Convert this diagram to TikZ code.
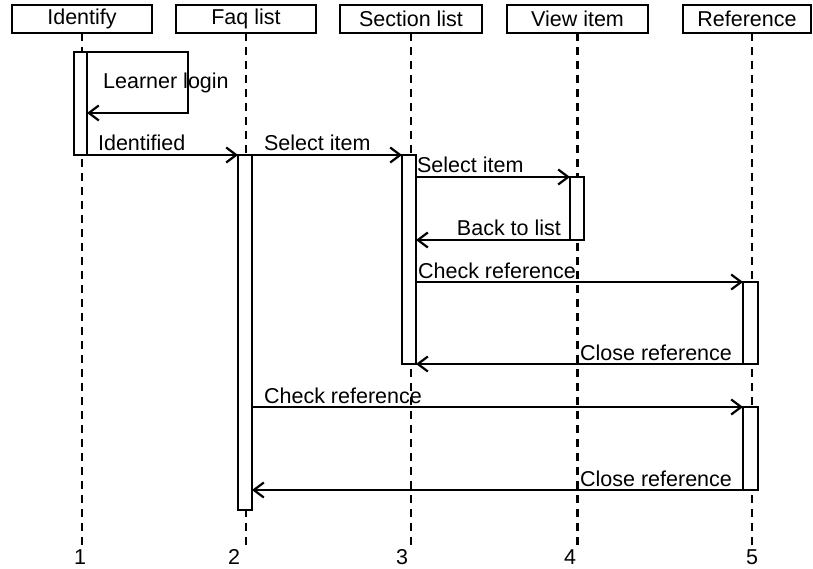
\documentclass[tikz,border=0pt]{standalone}
\usepackage{fontspec}
\setmainfont{Liberation Sans}
\usetikzlibrary{arrows.meta}

\tikzset{
  objet/.style={draw,line width=2.2pt,minimum height=28pt,inner sep=0pt,outer sep=0pt},
  vie/.style={line width=2.2pt,dash pattern=on 8pt off 6pt},
  barre/.style={draw,fill=white,line width=2.2pt,minimum width=14pt,inner sep=0pt,outer sep=0pt,anchor=north},
  msg/.style={line width=2.2pt,-{Straight Barb[length=10pt,width=15pt,line width=2.2pt]}},
  etiq/.style={inner sep=0pt,yshift=4pt},
  numero/.style={inner sep=0pt}
}

\begin{document}
\begin{tikzpicture}[x=1pt,y=-1pt,font=\fontsize{21.5}{26}\selectfont]

\useasboundingbox[fill=white] (0,0) rectangle (813,569) ;

% objets

\node[objet,minimum width=140pt] (o1) at (82,19) {Identify} ;
\node[objet,minimum width=140pt] (o2) at (246,19) {Faq list} ;
\node[objet,minimum width=142pt] (o3) at (411,19) {Section list} ;
\node[objet,minimum width=141pt] (o4) at (577.5,19) {View item} ;
\node[objet,minimum width=128pt] (o5) at (747,19) {Reference} ;

% numeros et lignes de vie

\node[numero] (n1) at (80,557) {1} ;
\node[numero] (n2) at (234,557) {2} ;
\node[numero] (n3) at (402,557) {3} ;
\node[numero] (n4) at (570,557) {4} ;
\node[numero] (n5) at (752,557) {5} ;

\draw[vie] (o1.south) -- (o1.south |- n1.north) ;
\draw[vie] (o2.south) -- (o2.south |- n2.north) ;
\draw[vie] (o3.south) -- (o3.south |- n3.north) ;
\draw[vie] (o4.south) -- (o4.south |- n4.north) ;
\draw[vie] (752,33) -- (752,548) ;

% barres d'activation

\node[barre,minimum width=13pt,minimum height=103pt] (b1) at (80.5,52) {} ;
\node[barre,minimum height=355pt] (b2) at (245,155) {} ;
\node[barre,minimum height=209pt] (b3) at (409,155) {} ;
\node[barre,minimum height=63pt] (b4) at (577,177) {} ;
\node[barre,minimum width=15pt,minimum height=82pt] (b5) at (750.5,282) {} ;
\node[barre,minimum width=15pt,minimum height=83pt] (b6) at (750.5,407) {} ;

% messages

\coordinate (login) at (188,113) ;
\draw[msg] (b1.north east) -| (login) -- (login -| b1.east) ;
\node[inner sep=0pt,anchor=base west] (t0) at (103,89) {Learner login} ;

\draw[msg] (b1.south east) -- (b2.north west)
  node[etiq,pos=0,anchor=base west,xshift=10pt] (t1) {Identified} ;
\draw[msg] (b2.north east) -- (b3.north west)
  node[etiq,pos=0,anchor=base west,xshift=11pt] (t2) {Select item} ;
\draw[msg] (b4.north west -| b3.east) -- (b4.north west)
  node[etiq,pos=0,anchor=base west,xshift=0pt] (t3) {Select item} ;
\draw[msg] (b4.south west) -- (b4.south west -| b3.east)
  node[etiq,pos=0,anchor=base east,xshift=-8pt] (t4) {Back to list} ;
\draw[msg] (b5.north west -| b3.east) -- (b5.north west)
  node[etiq,pos=0,anchor=base west,xshift=1pt] (t5) {Check reference} ;
\draw[msg] (b5.south west) -- (b5.south west -| b3.east)
  node[etiq,pos=0,anchor=base east,xshift=-10pt] (t6) {Close reference} ;
\draw[msg] (b6.north west -| b2.east) -- (b6.north west)
  node[etiq,pos=0,anchor=base west,xshift=11pt] (t7) {Check reference} ;
\draw[msg] (b6.south west) -- (b6.south west -| b2.east)
  node[etiq,pos=0,anchor=base east,xshift=-10pt] (t8) {Close reference} ;

\end{tikzpicture}
\end{document}
